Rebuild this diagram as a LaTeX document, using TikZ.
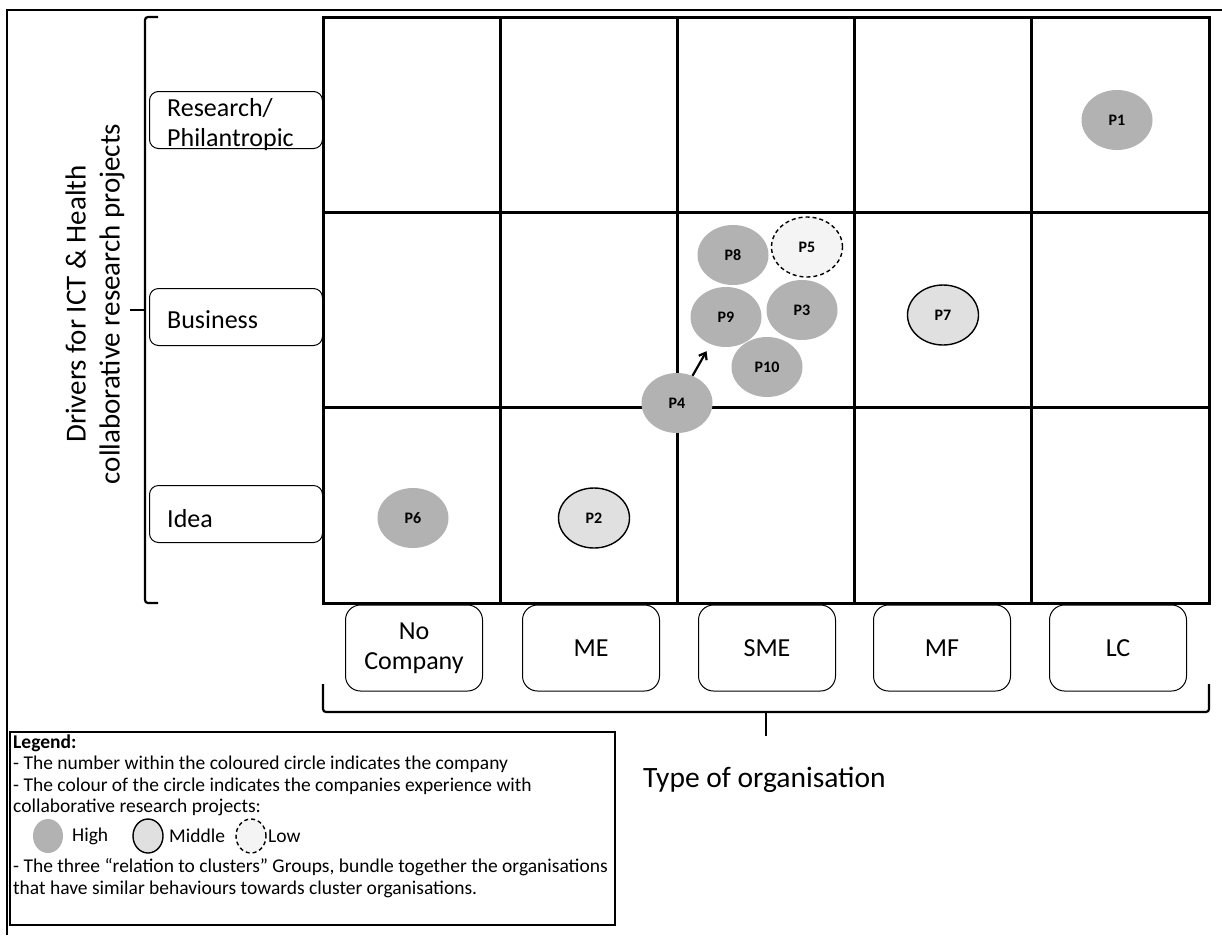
\documentclass[tikz,border=0pt]{standalone}
\usepackage{fontspec}
\setmainfont{Carlito}
\usetikzlibrary{shapes.geometric,arrows.meta}
\definecolor{highgray}{RGB}{178,178,178}
\definecolor{midgray}{RGB}{224,224,224}
\definecolor{lowgray}{RGB}{244,244,244}
\tikzset{
  gridline/.style={line width=3pt},
  bracket/.style={line width=2.2pt, rounded corners=3pt},
  pcircle/.style={ellipse, fill=highgray, minimum width=71pt, minimum height=60pt,
    inner sep=0pt, font=\fontsize{16}{19}\selectfont\bfseries},
  pmid/.style={pcircle, fill=midgray, draw, line width=1.4pt},
  plow/.style={pcircle, fill=lowgray, draw, dash pattern=on 4pt off 3pt, line width=1.4pt},
  legcircle/.style={minimum width=30pt, minimum height=34pt},
  rowbox/.style={draw, rounded corners=9pt, line width=1pt, minimum width=173pt,
    minimum height=57pt, inner sep=0pt},
  rowtext/.style={anchor=west, align=left, inner sep=0pt, font=\fontsize{26}{30}\selectfont},
  orgbox/.style={draw, rounded corners=15pt, line width=1pt, minimum width=137pt,
    minimum height=86pt, align=center, font=\fontsize{26}{30}\selectfont},
  legtext/.style={anchor=west, inner sep=0pt, font=\fontsize{19.5}{22}\selectfont},
}
\begin{document}
\begin{tikzpicture}[x=1pt, y=-1pt]
  \useasboundingbox (0,0) rectangle (1222,935);
  %\draw[lightgray] (0,0) grid[step=50] (1222,935);
  \draw[line width=2.2pt] (1222,10) -- (7,10) -- (7,935);

  % matrix
  \draw[gridline] (323,17) rectangle (1209,603);
  \foreach \x in {500,677,854,1031}
    \draw[gridline] (\x,17) -- (\x,603);
  \foreach \y in {212,407}
    \draw[gridline] (323,\y) -- (1209,\y);

  % drivers axis
  \draw[bracket] (158,17) -- (145,17) -- (145,603) -- (158,603);
  \draw[line width=2.2pt] (130,310) -- (145,310);
  \node[rotate=90, align=center, font=\fontsize{29}{34}\selectfont] (drivers) at (95,304)
    {Drivers for ICT \& Health\\collaborative research projects};
  \node[rowbox] (research) at (236,120) {};
  \node[rowtext] at (167,125) {Research/\\Philantropic};
  \node[rowbox] (business) at (236,317) {};
  \node[rowtext] at (167,320) {Business};
  \node[rowbox] (idea) at (236,514) {};
  \node[rowtext] at (167,519) {Idea};

  % organisation axis
  \node[orgbox] (nocomp) at (414,648) {No\\Company};
  \node[orgbox] (me) at (591,648) {ME};
  \node[orgbox] (sme) at (767,648) {SME};
  \node[orgbox] (mf) at (942,648) {MF};
  \node[orgbox] (lc) at (1118,648) {LC};
  \draw[bracket] (323,684) -- (323,712) -- (1209,712) -- (1209,684);
  \draw[line width=2.2pt] (766,712) -- (766,736);
  \node[anchor=west, inner sep=0pt, font=\fontsize{29.5}{35}\selectfont] (orgtype) at (643,780)
    {Type of organisation};

  % companies
  \node[pcircle] (P1) at (1117,120) {P1};
  \node[pcircle] (P8) at (733,255) {P8};
  \node[plow] (P5) at (807,247) {P5};
  \node[pcircle] (P9) at (726,317) {P9};
  \node[pcircle] (P3) at (802,310) {P3};
  \node[pcircle] (P10) at (767,367) {P10};
  \node[pcircle] (P4) at (677,403) {P4};
  \node[pmid] (P7) at (943,315) {P7};
  \node[pcircle] (P6) at (413,518) {P6};
  \node[pmid] (P2) at (594,518) {P2};
  \draw[-{Straight Barb[length=6pt,width=9pt]}, line width=2.2pt, shorten >=8pt] (P4) -- (P9);

  % legend
  \draw[line width=2.8pt] (10,732) rectangle (615,925);
  \node[legtext, font=\fontsize{19.5}{22}\selectfont\bfseries] at (13,743) {Legend:};
  \node[legtext] at (13,764) {- The number within the coloured circle indicates the company};
  \node[legtext] at (13,786) {- The colour of the circle indicates the companies experience with};
  \node[legtext] at (13,807) {collaborative research projects:};
  \node[pcircle, legcircle] (high) at (48,836) {};
  \node[legtext] at (72,836) {High};
  \node[pmid, legcircle] (middle) at (148,836) {};
  \node[legtext] at (169,836) {Middle};
  \node[plow, legcircle] (low) at (251,836) {};
  \node[legtext] at (268,836) {Low};
  \node[legtext] at (13,867) {- The three “relation to clusters” Groups, bundle together the organisations};
  \node[legtext] at (13,889) {that have similar behaviours towards cluster organisations.};
\end{tikzpicture}
\end{document}
